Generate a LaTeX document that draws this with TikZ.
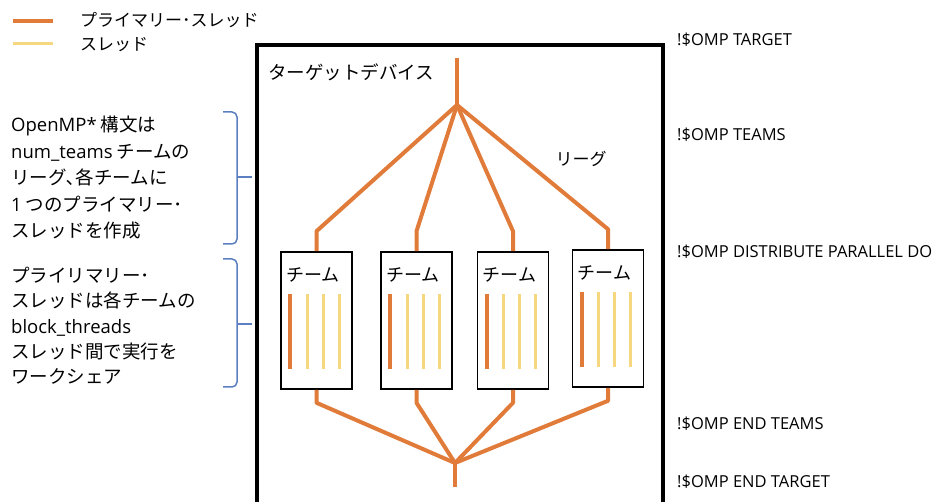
\documentclass[tikz,border=0pt]{standalone}
\usepackage{fontspec}
\setmainfont{Noto Sans CJK JP}
\newfontfamily\latin{Open Sans}
\usetikzlibrary{calc,positioning}
\definecolor{thrOrange}{HTML}{E07B39}
\definecolor{thrYellow}{HTML}{F5D77F}
\definecolor{braceBlue}{HTML}{5B7FC0}

\begin{document}
\begin{tikzpicture}[x=1pt,y=-1pt,
	primary/.style={thrOrange,line width=4pt},
	worker/.style={thrYellow,line width=3pt},
	teambox/.style={draw,line width=1.6pt,minimum width=71pt,minimum height=137pt,inner sep=0pt},
	lbl/.style={inner sep=0pt,font=\fontsize{17}{26}\selectfont},
	note/.style={inner sep=0pt,align=left,anchor=north west,font=\fontsize{18.5}{26.5}\selectfont},
	omp/.style={inner sep=0pt,anchor=west,font=\latin\fontsize{16.5}{18}\selectfont},
	brk/.style={braceBlue,line width=1.5pt,rounded corners=5pt}]

	\clip (0,0) rectangle (940,502);

	% legend
	\draw[primary] (13,21) -- (53,21);
	\draw[worker] (13,44) -- (53,44);
	\node[lbl,anchor=west] (legp) at (80,20) {プライマリー･スレッド};
	\node[lbl,anchor=west] (legw) at (80,45) {スレッド};

	% target device
	\draw[line width=3.5pt] (257,520) -- (257,45) -- (663,45) -- (663,520);
	\node[lbl,anchor=west,font=\fontsize{18.5}{22}\selectfont] (dev) at (268,72) {ターゲットデバイス};
	\node[lbl] (league) at (581,159) {リーグ};

	% teams
	\node[teambox] (team1) at (316.5,320.5) {};
	\node[teambox] (team2) at (416.5,320.5) {};
	\node[teambox] (team3) at (513,320.5) {};
	\node[teambox] (team4) at (608,318.5) {};
	\foreach \t in {1,...,4} {
		\node[lbl,anchor=north west,font=\fontsize{18}{22}\selectfont] (tlab\t) at ([xshift=6pt,yshift=-16pt]team\t.north west) {チーム};
		\draw[primary] ([xshift=10pt,yshift=-43pt]team\t.north west) -- ++(0,75);
		\foreach \dx in {27,43,59}
			\draw[worker] ([xshift=\dx pt,yshift=-43pt]team\t.north west) -- ++(0,75);
	}

	% league tree
	\coordinate (top) at (457,58);
	\coordinate (split) at (457,105);
	\coordinate (join) at (455,463);
	\coordinate (bottom) at (455,487);
	\draw[primary] (top) -- (split);
	\draw[primary] (join) -- (bottom);
	\foreach \t in {1,...,4} {
		\draw[primary,line join=round] (split) -- ($(team\t.north)+(0,-20)$) -- (team\t.north);
		\draw[primary,line join=round] (team\t.south) -- ($(team\t.south)+(0,13)$) -- (join);
	}

	% directives
	\node[omp] (dtarget) at (677,40) {!\$OMP TARGET};
	\node[omp] (dteams) at (677,135) {!\$OMP TEAMS};
	\node[omp] (ddist) at (677,252) {!\$OMP DISTRIBUTE PARALLEL DO};
	\node[omp] (dendteams) at (677,424) {!\$OMP END TEAMS};
	\node[omp] (dendtarget) at (677,482) {!\$OMP END TARGET};

	% notes
	\node[note] (note1) at (11,116) {{\latin OpenMP*} 構文は\\{\latin num\_teams} チームの\\リーグ､各チームに\\{\latin 1} つのプライマリー･\\スレッドを作成};
	\node[note,font=\fontsize{18.5}{25.3}\selectfont] (note2) at (11,267) {プライリマリー･\\スレッドは各チームの\\{\latin block\_threads}\\スレッド間で実行を\\ワークシェア};
	\draw[brk] (223,112) -- (237,112) -- (237,244) -- (223,244);
	\draw[braceBlue,line width=1.5pt] (237,177) -- (252,177);
	\draw[brk] (223,259) -- (237,259) -- (237,387) -- (223,387);
	\draw[braceBlue,line width=1.5pt] (237,324) -- (252,324);
\end{tikzpicture}
\end{document}
